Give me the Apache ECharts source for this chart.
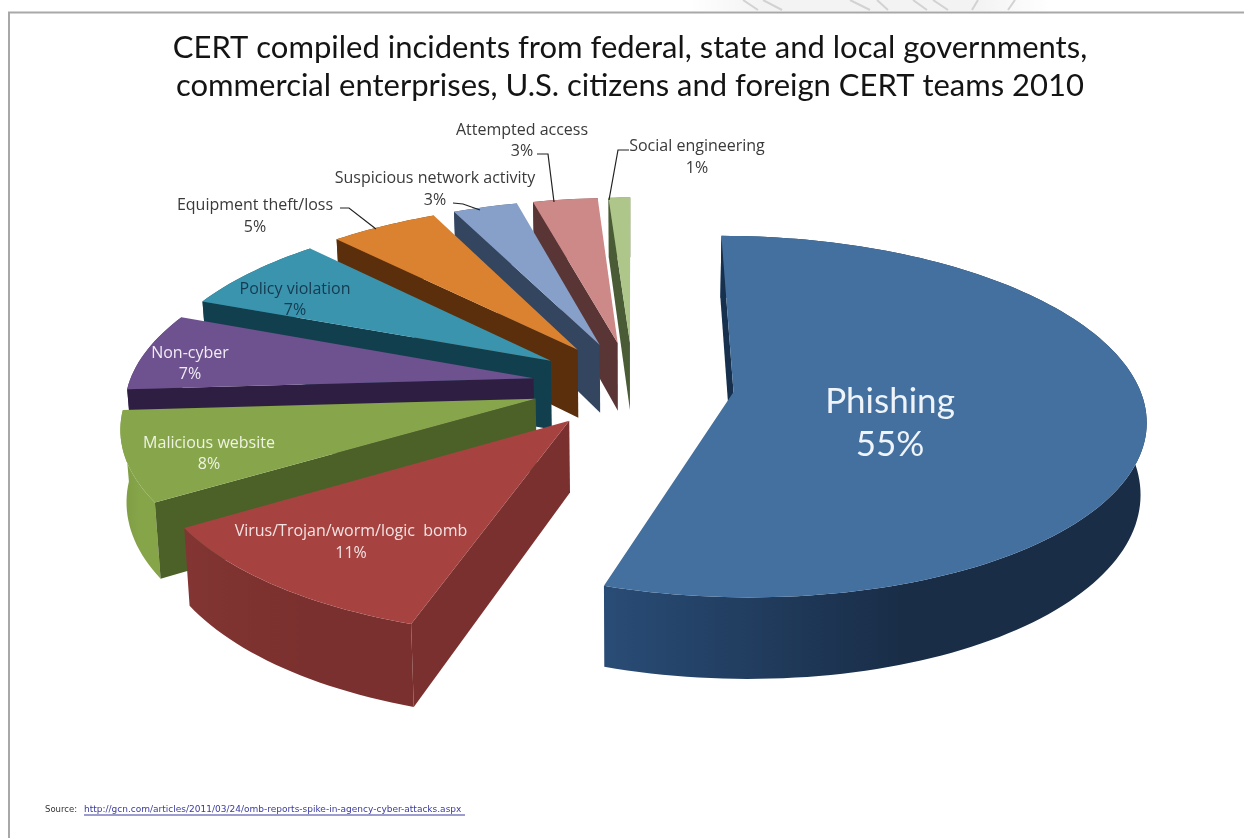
<!DOCTYPE html>
<html>
<head>
<meta charset="utf-8">
<title>CERT incidents 2010</title>
<style>html,body{margin:0;padding:0;background:#fff}#chart{width:1244px;height:838px}</style>
<script src="https://cdn.jsdelivr.net/npm/echarts@6/dist/echarts.min.js"></script>
</head>
<body>
<div id="chart"></div>
<script>
// Incident categories and their shares, clockwise from twelve o'clock
const categories = ['Phishing', 'Virus/Trojan/worm/logic  bomb', 'Malicious website', 'Non-cyber',
  'Policy violation', 'Equipment theft/loss', 'Suspicious network activity', 'Attempted access', 'Social engineering'];
const shares = [55, 11, 8, 7, 7, 5, 3, 3, 1];

// Slice colours: top face, near radial face, outer wall (light and dark ends)
const topColors = ['#44709f', '#a64341', '#87a64b', '#6e528f', '#3a94ae', '#db8230', '#87a0c9', '#cc8987', '#aec689'];
const faceColors = ['#16304e', '#7a302e', '#4c6128', '#2e1f42', '#123f4e', '#5b2f0b', '#33455f', '#5a3535', '#4a5c35'];
const wallLight = ['#294c76', '#823533', '#7d9c44', '#4b3868', '#1c5668', '#7c4210', '#445a7c', '#744444', '#5e7344'];
const wallDark = ['#192d47', '#7a302e', '#86a448', '#4b3868', '#1c5668', '#7c4210', '#445a7c', '#744444', '#5e7344'];

// Label placement: centre x, first and second rows, size, colour
const labelSpots = [
  [890, 402, 445, 35, '#eef4fa', 'Lato'], [351, 531, 553, 16, '#f3e3e2', 'Open Sans'], [209, 443, 464, 16, '#eef3e2', 'Open Sans'],
  [190, 353, 374, 16, '#f0ecf5', 'Open Sans'], [295, 289, 310, 16, '#163a50', 'Open Sans'], [255, 205, 227, 16, '#3a3a3a', 'Open Sans'],
  [435, 178, 200, 16, '#3a3a3a', 'Open Sans'], [522, 130, 151, 16, '#3a3a3a', 'Open Sans'], [697, 146, 168, 16, '#3a3a3a', 'Open Sans']
];

// Leader lines for the labels outside the pie
const leaders = [
  [[340, 208], [349, 208], [376, 229]],
  [[453, 203], [463, 204], [480, 210]],
  [[537, 154], [548, 154], [554, 202]],
  [[629, 150], [618, 150], [609, 200]]
];

// Faint streaks in the strip above the page frame
const streaks = [
  [[743, 0], [758, 10]], [[763, 0], [782, 10]], [[850, 0], [870, 10]], [[877, 0], [888, 10]],
  [[913, 0], [927, 10]], [[933, 0], [948, 10]], [[978, 0], [972, 10]], [[1015, 0], [1008, 10]]
];

// Projection of the exploded pie: unit circle on a tilted plane seen in perspective
const CX = 633, CY = 385, RX = 405, RY = 175.5, DIST = 7.35, EXPLODE = 0.25, DEPTH = 70, BASE_SHRINK = 0.988;
const rad = d => d * Math.PI / 180;

function project(x, y, lower) {
  const s = DIST / (DIST - y);
  let px = CX + RX * x * s;
  let py = CY + RY * y * s;
  if (lower) {
    px = CX + (px - CX) * BASE_SHRINK;
    py += DEPTH * s;
  }
  return [px, py];
}

const total = shares.reduce((a, b) => a + b, 0);
const startAngles = [];
shares.reduce((acc, v, i) => { startAngles[i] = acc; return acc + v / total * 360; }, 0);

function renderSlice(params, api) {
  const i = params.dataIndex;
  const sweep = api.value(0) / total * 360;
  const a0 = startAngles[i], a1 = a0 + sweep, mid = (a0 + a1) / 2;
  const ox = EXPLODE * Math.sin(rad(mid)), oy = -EXPLODE * Math.cos(rad(mid));
  const rim = (a, lower) => project(ox + Math.sin(rad(a)), oy - Math.cos(rad(a)), lower);
  const steps = Math.max(4, Math.ceil(sweep / 1.5));
  const upper = [], under = [];
  for (let k = 0; k <= steps; k++) {
    const a = a0 + sweep * k / steps;
    upper.push(rim(a, false));
    under.push(rim(a, true));
  }
  const apex = project(ox, oy, false), apexLow = project(ox, oy, true);
  const base = 100 - i * 10;
  const xs = upper.map(p => p[0]);
  const minX = Math.min.apply(null, xs), maxX = Math.max.apply(null, xs);
  const grad = {
    type: 'linear', global: true, x: minX, y: 0, x2: maxX, y2: 0,
    colorStops: [{ offset: 0, color: wallLight[i] }, { offset: 0.55, color: wallDark[i] }, { offset: 1, color: wallDark[i] }]
  };
  const children = [
    { type: 'polygon', z2: base, shape: { points: upper.concat(under.slice().reverse()) }, style: { fill: grad } },
    { type: 'polygon', z2: base + 1, shape: { points: [apex, upper[0], under[0], apexLow] }, style: { fill: faceColors[i] } },
    { type: 'polygon', z2: base + 2, shape: { points: [apex].concat(upper) }, style: { fill: topColors[i] } }
  ];
  const spot = labelSpots[i];
  const font = spot[3] + 'px "' + spot[5] + '"';
  children.push(
    { type: 'text', z2: 900, style: { text: categories[i], x: spot[0], y: spot[1], align: 'center', verticalAlign: 'middle', fill: spot[4], font: font } },
    { type: 'text', z2: 900, style: { text: api.value(0) + '%', x: spot[0], y: spot[2], align: 'center', verticalAlign: 'middle', fill: spot[4], font: font } }
  );
  return { type: 'group', children: children };
}

const chart = echarts.init(document.getElementById('chart'), null, { renderer: 'canvas' });
chart.setOption({
  animation: false,
  backgroundColor: '#ffffff',
  title: {
    text: 'CERT compiled incidents from federal, state and local governments,\ncommercial enterprises, U.S. citizens and foreign CERT teams 2010',
    left: 625, top: 24, textAlign: 'center',
    textStyle: { fontFamily: 'Lato', fontWeight: 'normal', fontSize: 31, lineHeight: 38, color: '#141414' }
  },
  graphic: {
    elements: [
      // strip above the page frame
      { type: 'rect', shape: { x: 690, y: 0, width: 360, height: 11 }, style: { fill: {
        type: 'linear', x: 0, y: 0, x2: 1, y2: 0,
        colorStops: [{ offset: 0, color: '#ffffff' }, { offset: 0.2, color: '#f3f3f3' }, { offset: 0.8, color: '#f3f3f3' }, { offset: 1, color: '#ffffff' }]
      } } },
      // page frame
      { type: 'polyline', shape: { points: [[9, 838], [9, 12.5], [1244, 12.5]] }, style: { stroke: '#a8a8a8', lineWidth: 2, fill: null } },
      // source note
      { type: 'text', style: { text: 'Source:', x: 45, y: 810, verticalAlign: 'middle', fill: '#333', font: '8.5px "DejaVu Sans"' } },
      { type: 'text', style: { text: 'http://gcn.com/articles/2011/03/24/omb-reports-spike-in-agency-cyber-attacks.aspx', x: 84, y: 810, verticalAlign: 'middle', fill: '#3a3aa0', font: '9px "DejaVu Sans"' } },
      { type: 'line', shape: { x1: 84, y1: 815, x2: 465, y2: 815 }, style: { stroke: '#3a3aa0', lineWidth: 1 } }
    ].concat(streaks.map(pts => ({ type: 'polyline', shape: { points: pts }, style: { stroke: '#d2d2d2', lineWidth: 2, fill: null } })))
     .concat(leaders.map(pts => ({ type: 'polyline', z: 10, shape: { points: pts }, style: { stroke: '#222', lineWidth: 1.2, fill: null } })))
  },
  series: [{
    type: 'custom',
    coordinateSystem: 'none',
    clip: false,
    silent: true,
    data: shares.map(v => [v]),
    renderItem: renderSlice
  }]
});
</script>
</body>
</html>
